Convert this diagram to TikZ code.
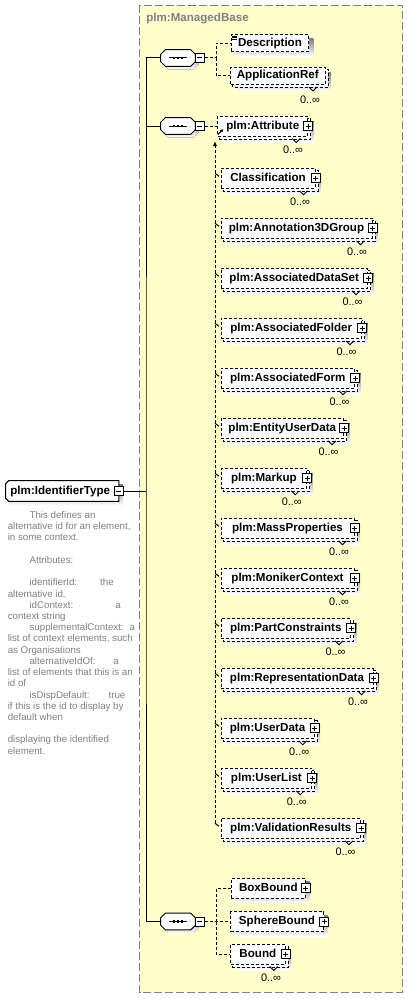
\documentclass[tikz,border=0pt]{standalone}
\usepackage{fontspec}
\setmainfont{Liberation Sans}
\usetikzlibrary{arrows.meta,backgrounds}

\definecolor{groupfill}{RGB}{255,255,204}
\definecolor{groupline}{RGB}{128,128,128}
\definecolor{shade}{RGB}{192,192,192}
\definecolor{doctext}{RGB}{128,128,128}

% octagon round a sequence node, moved by #2 px
\newcommand\seqoutline[2]{([shift={(4.5+#2,#2)}]#1.north west) -- ([shift={(-4.5+#2,#2)}]#1.north east)
  -- ([shift={(#2,4.5+#2)}]#1.north east) -- ([shift={(#2,-4.5+#2)}]#1.south east)
  -- ([shift={(-4.5+#2,#2)}]#1.south east) -- ([shift={(4.5+#2,#2)}]#1.south west)
  -- ([shift={(#2,-4.5+#2)}]#1.south west) -- ([shift={(#2,4.5+#2)}]#1.north west) -- cycle}

\begin{document}
\begin{tikzpicture}[x=0.75pt,y=0.75pt,yscale=-1,xscale=1,
  elem/.style={draw, fill=white, line width=0.75pt, dash pattern=on 2.25pt off 1.5pt,
    inner sep=0pt, minimum height=15pt, anchor=west, text height=6.4pt, text depth=1.9pt,
    font=\fontsize{8.7}{10}\selectfont\bfseries},
  elemback/.style={draw, fill=white, line width=0.75pt, dash pattern=on 2.25pt off 1.5pt},
  expbox/.style={draw, solid, fill=white, line width=0.75pt, minimum size=6.75pt, inner sep=0pt},
  minusbox/.style={expbox, path picture={
    \draw[line width=0.75pt, shorten >=1.5pt, shorten <=1.5pt]
      (path picture bounding box.west) -- (path picture bounding box.east);}},
  plusbox/.style={expbox, path picture={
    \draw[line width=0.75pt, shorten >=1.5pt, shorten <=1.5pt]
      (path picture bounding box.west) -- (path picture bounding box.east);
    \draw[line width=0.75pt, shorten >=1.5pt, shorten <=1.5pt]
      (path picture bounding box.north) -- (path picture bounding box.south);}},
  seqnode/.style={minimum width=25.5pt, minimum height=12pt, inner sep=0pt},
  seqline/.style={draw, fill=white, line width=0.75pt},
  idnode/.style={minimum width=84.4pt, minimum height=15pt, inner sep=0pt,
    font=\fontsize{8.7}{10}\selectfont\bfseries},
  conn/.style={line width=0.75pt, dash pattern=on 2.25pt off 1.5pt},
  tree/.style={line width=0.75pt},
  tick/.style={line width=0.75pt},
  notch/.style={line width=0.6pt},
  occ/.style={inner sep=0pt, font=\fontsize{8.2}{9}\selectfont},
  doc/.style={anchor=base west, inner sep=0pt, text=doctext, font=\fontsize{7.3}{9}\selectfont},
  grouplabel/.style={anchor=west, inner sep=0pt, text=groupline, font=\fontsize{8.7}{10}\selectfont\bfseries}
]
\useasboundingbox (0,0) rectangle (408,999);

% Group label
\node[grouplabel] (mbase) at (146,19) {plm:ManagedBase};

% Complex type
\node[idnode] (idt) at (62.25,491) {plm:IdentifierType\hspace*{3pt}};
\node[minusbox] (idtm) at (idt.east) {};

% Documentation
\foreach \k/\xx/\txt in {0/29.3/{This defines an}, 1/7.5/{alternative id for an element,},
  2/7.5/{in some context.}, 4/29.3/{Attributes:},
  6/29.3/{\makebox[53pt][l]{identifierId:}the}, 7/7.5/{alternative id.},
  8/29.3/{\makebox[64.3pt][l]{idContext:}a}, 9/7.5/{context string},
  10/29.3/{\makebox[75pt][l]{supplementalContext:}a}, 11/7.5/{list of context elements, such},
  12/7.5/{as Organisations}, 13/29.3/{\makebox[62.8pt][l]{alternativeIdOf:}a},
  14/7.5/{list of elements that this is an}, 15/7.5/{id of},
  16/29.3/{\makebox[59.3pt][l]{isDispDefault:}true}, 17/7.5/{if this is the id to display by},
  18/7.5/{default when}, 20/7.5/{displaying the identified}, 21/7.5/{element.}}
  \node[doc] (doc\k) at (\xx,518.5+11.22*\k) {\txt};

% Sequences
\node[seqnode] (s1) at (178,58) {};
\node[minusbox] (s1m) at (199.5,58) {};
\node[seqnode] (s2) at (178,126) {};
\node[minusbox] (s2m) at (199.5,126) {};
\node[seqnode] (s3) at (178,921.5) {};
\node[minusbox] (s3m) at (199.5,921.5) {};
\foreach \s in {s1,s2,s3} {
  \draw[tree] ([shift={(-9,0)}]\s.center) -- ([shift={(9,0)}]\s.center);
  \foreach \dx in {-4,0,4}
    \fill ([shift={(\dx,0)}]\s.center) +(-1.4,-1.4) rectangle +(1.4,1.4);
}

\coordinate (trunk) at (146,491);
\draw[tree] (idtm.east) -- (trunk);
\draw[tree] (s1.west) -| (trunk) |- (s3.west);
\draw[tree] (s2.west) -- (s2.west -| trunk);

% First sequence
\node[elem, minimum width=58.2pt, minimum height=12.5pt] (desc) at (230.7,43.3) {Description};
\foreach \dy in {1.7,3.2,4.7}
  \draw[line width=0.5pt] ([shift={(1.6,\dy)}]desc.north west) -- ++(4.5,0);
\node[elem, minimum width=70.9pt, minimum height=12.75pt] (appref) at (230,76) {ApplicationRef};
\draw[notch] (309,87) -- (313,91) -- (317,87);
\node[occ] (appref-o) at (310,99.5) {0..∞};
\coordinate (j1) at (216,58);
\draw[conn] (s1m.east) -- (j1) |- (desc.west);
\draw[conn] (j1) |- (appref.west);

% Second sequence
\node[elem, minimum width=67.5pt] (attr) at (217.3,126) {plm:Attribute};
\node[plusbox] (attr-p) at (attr.east) {};
\draw[notch] (292.3,138.5) -- (296.3,142.5) -- (300.3,138.5);
\node[occ] (attr-o) at (293,150) {0..∞};
\draw[conn] (s2m.east) -- (attr.west);
\draw[line width=0.75pt, -{Latex[length=2.6pt,width=2.6pt]}] (217.8,134.5) -- (223.5,129);

% Substitution group members
\coordinate (subtop) at (215,141);
\coordinate (subend) at (215,823.3);
\draw[conn, -{Latex[length=3.75pt,width=3pt]}] (subend) -- (subtop);
\foreach \nm/\lbl/\rx [count=\i from 0] in {cls/Classification/314.5,
  ann/plm:Annotation3DGroup/371.5, ads/plm:AssociatedDataSet/367,
  afo/plm:AssociatedFolder/361, afm/plm:AssociatedForm/354,
  eud/plm:EntityUserData/343, mkp/plm:Markup/306.3,
  mas/plm:MassProperties/353.5, mon/plm:MonikerContext/353.5,
  pco/plm:PartConstraints/350, rep/plm:RepresentationData/372.5,
  usd/plm:UserData/313.7, usl/plm:UserList/311.3,
  val/plm:ValidationResults/360} {
  \pgfmathsetmacro\yy{178.3+50*\i}
  \pgfmathsetmacro\ww{(\rx-220.5)*0.75}
  \node[elem, minimum width=\ww pt] (\nm) at (220.5,\yy) {\lbl};
  \node[plusbox] (\nm-p) at (\nm.east) {};
  \draw[tick] (215,\yy-5) -- (219,\yy-2);
  \draw[notch] (\rx-15,\yy+12.5) -- (\rx-11,\yy+16.5) -- (\rx-7,\yy+12.5);
  \node[occ] (\nm-o) at (\rx-14.5,\yy+23.5) {0..∞};
}

% Third sequence
\node[elem, minimum width=55.7pt] (boxb) at (230.7,888.3) {BoxBound};
\node[plusbox] (boxb-p) at (boxb.east) {};
\node[elem, minimum width=69.75pt] (sphere) at (230,921.5) {SphereBound};
\node[plusbox] (sphere-p) at (sphere.east) {};
\node[elem, minimum width=41pt] (bound) at (230,954) {Bound};
\node[plusbox] (bound-p) at (bound.east) {};
\draw[notch] (269.7,966.5) -- (273.7,970.5) -- (277.7,966.5);
\node[occ] (bound-o) at (271,977.5) {0..∞};
\coordinate (j3) at (216,921.5);
\draw[conn] (s3m.east) -- (sphere.west);
\draw[conn] (j3) |- (boxb.west);
\draw[conn] (j3) |- (bound.west);

% Background: group, shadows, outlines, stacked copies
\begin{scope}[on background layer]
  \fill[groupfill] (139.5,5.5) rectangle (402,992);
  \draw[groupline, line width=0.75pt, dash pattern=on 6pt off 2.25pt] (139.5,5.5) rectangle (402,992);
  % complex type outline
  \fill[shade] ([shift={(4,4)}]idt.north west) rectangle ([shift={(4,4)}]idt.south east);
  \draw[seqline] ([shift={(3,0)}]idt.north west) -- (idt.north east) -- (idt.south east)
    -- ([shift={(3,0)}]idt.south west) -- ([shift={(0,-3)}]idt.south west)
    -- ([shift={(0,3)}]idt.north west) -- cycle;
  % sequence octagons
  \foreach \s in {s1,s2,s3} {
    \fill[shade] \seqoutline{\s}{3};
    \draw[seqline] \seqoutline{\s}{0};
  }
  \foreach \nm in {desc,boxb,sphere}
    \fill[shade] ([shift={(4,4)}]\nm.north west) rectangle ([shift={(4,4)}]\nm.south east);
  \foreach \nm in {appref,attr,cls,ann,ads,afo,afm,eud,mkp,mas,mon,pco,rep,usd,usl,val,bound} {
    \fill[shade] ([shift={(5.5,5.5)}]\nm.north west) rectangle ([shift={(5.5,5.5)}]\nm.south east);
    \draw[elemback] ([shift={(2.5,2.5)}]\nm.north west) rectangle ([shift={(2.5,2.5)}]\nm.south east);
  }
\end{scope}
\end{tikzpicture}
\end{document}
